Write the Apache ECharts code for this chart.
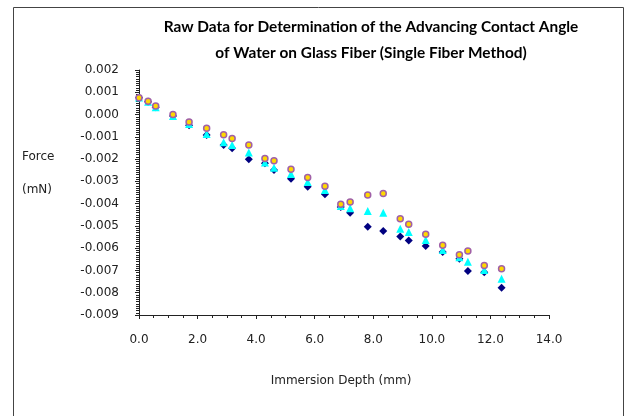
<!DOCTYPE html>
<html>
<head>
<meta charset="utf-8">
<script src="https://cdn.jsdelivr.net/npm/echarts@6/dist/echarts.min.js"></script>
<style>
html,body{margin:0;padding:0;background:#fff;}
#chart{width:625px;height:416px;}
</style>
</head>
<body>
<div id="chart"></div>
<script>
// Immersion depth (mm)
var depth = [0.00, 0.31, 0.57, 1.16, 1.71, 2.31, 2.89, 3.18, 3.75, 4.30, 4.61, 5.19, 5.76, 6.35, 6.89, 7.21, 7.81, 8.34, 8.92, 9.21, 9.79, 10.37, 10.94, 11.23, 11.79, 12.38];
// Force (mN) - series 1 (navy diamonds)
var forceA = [0.00075, 0.00057, 0.00033, -0.00007, -0.00048, -0.00092, -0.00137, -0.00151, -0.00201, -0.00219, -0.00249, -0.00288, -0.00324, -0.00358, -0.00415, -0.00441, -0.00504, -0.00523, -0.00548, -0.00566, -0.00590, -0.00617, -0.00648, -0.00702, -0.00708, -0.00778];
// Force (mN) - series 2 (cyan triangles)
var forceB = [0.00077, 0.00058, 0.00033, -0.00006, -0.00043, -0.00087, -0.00124, -0.00137, -0.00170, -0.00215, -0.00239, -0.00267, -0.00303, -0.00339, -0.00411, -0.00421, -0.00433, -0.00441, -0.00513, -0.00527, -0.00563, -0.00608, -0.00641, -0.00661, -0.00698, -0.00737];
// Force (mN) - series 3 (yellow circles)
var forceC = [0.00075, 0.00060, 0.00038, 0.00000, -0.00033, -0.00062, -0.00091, -0.00107, -0.00137, -0.00197, -0.00208, -0.00246, -0.00283, -0.00322, -0.00403, -0.00393, -0.00361, -0.00354, -0.00468, -0.00492, -0.00537, -0.00587, -0.00629, -0.00613, -0.00678, -0.00692];

var titleLines = ["Raw Data for Determination of the Advancing Contact Angle", "of Water on Glass Fiber (Single Fiber Method)"];
var xTitle = "Immersion Depth (mm)";
var yTitleLines = ["Force", "(mN)"];

function pairs(xs, ys){ return xs.map(function(x,i){ return [x, ys[i]]; }); }

var chart = echarts.init(document.getElementById('chart'), null, {renderer:'canvas'});
var tickFont = {fontFamily:'DejaVu Sans', fontSize:12, color:'#222'};

chart.setOption({
  animation:false,
  backgroundColor:'#fff',
  grid:{left:139, right:76, top:70, bottom:101, containLabel:false},
  xAxis:{
    type:'value', min:0, max:14, interval:2,
    axisLine:{show:true, onZero:false, lineStyle:{color:'#222', width:1}},
    axisTick:{show:true, length:4, lineStyle:{color:'#222'}},
    minorTick:{show:true, splitNumber:4, length:3, lineStyle:{color:'#222'}},
    splitLine:{show:false},
    axisLabel:Object.assign({margin:19, formatter:function(v){return v.toFixed(1);}}, tickFont)
  },
  yAxis:{
    type:'value', min:-0.009, max:0.002, interval:0.001,
    axisLine:{show:true, onZero:false, lineStyle:{color:'#222', width:1}},
    axisTick:{show:true, length:4, lineStyle:{color:'#222'}},
    minorTick:{show:true, splitNumber:10, length:3, lineStyle:{color:'#222'}},
    splitLine:{show:false},
    axisLabel:Object.assign({margin:20, formatter:function(v){var s=Math.abs(v)<1e-9?0:v; return s.toFixed(3);}}, tickFont)
  },
  series:[
    {type:'scatter', name:'A', data:pairs(depth, forceA), symbol:'diamond', symbolSize:8,
     itemStyle:{color:'#000080', opacity:1}, z:2},
    {type:'scatter', name:'B', data:pairs(depth, forceB), symbol:'triangle', symbolSize:8,
     itemStyle:{color:'#00FFFF', opacity:1}, z:3},
    {type:'scatter', name:'C', data:pairs(depth, forceC), symbol:'circle', symbolSize:6,
     itemStyle:{color:'#FFD800', borderColor:'#A060A8', borderWidth:1.5, opacity:1}, z:4}
  ],
  graphic:[
    {type:'rect', shape:{x:13.5, y:7.5, width:610, height:420}, style:{fill:'none', stroke:'#444', lineWidth:1}, silent:true},
    {type:'text', x:371, y:27, style:{text:titleLines[0], textAlign:'center', textVerticalAlign:'middle', font:'bold 15.4px Lato', fill:'#000'}},
    {type:'text', x:371, y:53, style:{text:titleLines[1], textAlign:'center', textVerticalAlign:'middle', font:'bold 15.4px Lato', fill:'#000'}},
    {type:'text', x:341, y:381, style:{text:xTitle, textAlign:'center', textVerticalAlign:'middle', font:'12px DejaVu Sans', fill:'#222'}},
    {type:'text', x:22, y:157, style:{text:yTitleLines[0], textAlign:'left', textVerticalAlign:'middle', font:'12px DejaVu Sans', fill:'#222'}},
    {type:'text', x:22, y:190, style:{text:yTitleLines[1], textAlign:'left', textVerticalAlign:'middle', font:'12px DejaVu Sans', fill:'#222'}}
  ]
});
</script>
</body>
</html>
